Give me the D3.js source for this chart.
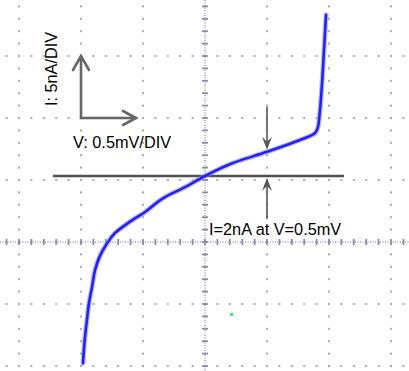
<!DOCTYPE html>
<html>
<head>
<meta charset="utf-8">
<script src="https://cdn.jsdelivr.net/npm/d3@7"></script>
<style>
  body { margin: 0; background: #fff; }
  text { font-family: "Liberation Sans", Arial, sans-serif; }
</style>
</head>
<body>
<div id="scope"></div>
<script>
// trace values, V in mV and I in nA
let voltage = [-0.984, -0.968, -0.952, -0.935, -0.911, -0.887, -0.850, -0.797, -0.726, -0.621, -0.484, -0.323, -0.161, 0, 0.226, 0.5, 0.766, 0.887, 0.911, 0.927, 0.944, 0.960, 0.976];
let current = [-15.1, -13.0, -11.6, -10.2, -8.95, -7.6, -6.5, -5.55, -4.6, -3.8, -2.9, -1.7, -0.9, 0, 1.05, 1.95, 2.9, 3.45, 3.95, 5.3, 7.5, 10.2, 13.0];

// graticule divisions
let xDivs = [-3, -2, -1, 0, 1, 2, 3];
let yDivs = [-2, -1, 0, 1, 2, 3];

// labels
let yLabel = "I: 5nA/DIV";
let xLabel = "V: 0.5mV/DIV";
let note = "I=2nA at V=0.5mV";
let markV = 0.5;

function init() {
    let width = 409;
    let height = 371;
    let svg = d3.select("#scope")
        .append("svg")
        .attr("width", width)
        .attr("height", height);

    // graticule in divisions
    let gx = d3.scaleLinear().domain([-3, 3]).range([19, 391]);
    let gy = d3.scaleLinear().domain([-3, 3]).range([428, 56]);
    // trace scales: 0.5 mV/div, 5 nA/div
    let xScale = d3.scaleLinear().domain([0, 0.5]).range([205, 267]);
    let yScale = d3.scaleLinear().domain([0, 5]).range([176, 114]);

    let minor = d3.range(-20, 21).map(d => d / 5);
    let grid = svg.append("g");

    // dots along each division line
    xDivs.filter(d => d != 0).forEach(function (k) {
        grid.selectAll(null)
            .data(minor.filter(m => gy(m) > -2 && gy(m) < height + 2))
            .enter().append("rect")
            .attr("x", gx(k) - 1).attr("y", d => gy(d) - 1)
            .attr("width", 2).attr("height", 2)
            .attr("fill", "#a8a8c0");
    });
    yDivs.filter(d => d != 0).forEach(function (k) {
        grid.selectAll(null)
            .data(minor.filter(m => gx(m) > -2 && gx(m) < width + 2))
            .enter().append("rect")
            .attr("x", d => gx(d) - 1).attr("y", gy(k) - 1)
            .attr("width", 2).attr("height", 2)
            .attr("fill", "#a8a8c0");
    });

    // centre axes, fine dotted with ticks
    grid.append("line")
        .attr("x1", gx(0)).attr("x2", gx(0))
        .attr("y1", 0).attr("y2", height)
        .attr("stroke", "#9c9cbc").attr("stroke-width", 1.5)
        .attr("stroke-dasharray", "1,1.5");
    grid.append("line")
        .attr("x1", 0).attr("x2", width)
        .attr("y1", gy(0)).attr("y2", gy(0))
        .attr("stroke", "#9c9cbc").attr("stroke-width", 1.5)
        .attr("stroke-dasharray", "1,1.5");
    grid.selectAll(null)
        .data(minor.filter(m => gy(m) > -2 && gy(m) < height + 2))
        .enter().append("line")
        .attr("x1", gx(0) - 3).attr("x2", gx(0) + 3)
        .attr("y1", d => gy(d)).attr("y2", d => gy(d))
        .attr("stroke", "#8a8aa8").attr("stroke-width", 1.8);
    grid.selectAll(null)
        .data(minor.filter(m => gx(m) > -2 && gx(m) < width + 2))
        .enter().append("line")
        .attr("x1", d => gx(d)).attr("x2", d => gx(d))
        .attr("y1", gy(0) - 3).attr("y2", gy(0) + 3)
        .attr("stroke", "#8a8aa8").attr("stroke-width", 1.8);

    // stray green spot
    svg.append("rect")
        .attr("x", 230).attr("y", 313).attr("width", 3).attr("height", 3)
        .attr("fill", "#44ee44");

    // zero current line
    svg.append("line")
        .attr("x1", 53).attr("x2", 344)
        .attr("y1", yScale(0)).attr("y2", yScale(0))
        .attr("stroke", "#505050").attr("stroke-width", 2.5);

    // trace
    let pts = voltage.map((v, i) => ({ x: v, y: current[i] }));
    let line = d3.line().curve(d3.curveMonotoneY)
        .x(d => xScale(d.x))
        .y(d => yScale(d.y));
    svg.append("path").datum(pts)
        .attr("fill", "none").attr("stroke", "#8c8cff")
        .attr("stroke-opacity", 0.6).attr("stroke-width", 5)
        .attr("stroke-linecap", "round")
        .attr("d", line);
    svg.append("path").datum(pts)
        .attr("fill", "none").attr("stroke", "#2323f0")
        .attr("stroke-width", 2.6)
        .attr("stroke-linecap", "round")
        .attr("d", line);

    // axis arrows
    let ax = gx(-2), ay = gy(2);
    let big = svg.append("g")
        .attr("stroke", "#666").attr("stroke-width", 2.6)
        .attr("fill", "none").attr("stroke-linecap", "round");
    big.append("path").attr("d", d3.line()([[ax, ay], [ax, gy(3)]]));
    big.append("path").attr("d", d3.line()([[ax - 8, gy(3) + 14], [ax, gy(3)], [ax + 8, gy(3) + 14]]));
    big.append("path").attr("d", d3.line()([[ax, ay], [ax + 55, ay]]));
    big.append("path").attr("d", d3.line()([[ax + 42, ay - 7], [ax + 55, ay], [ax + 42, ay + 7]]));

    // small arrows marking the reading
    let mx = xScale(markV);
    let tipDown = yScale(current[15]) - 2;
    let tipUp = yScale(0) + 2;
    let small = svg.append("g").attr("stroke", "#555").attr("stroke-width", 1.6);
    small.append("line").attr("x1", mx).attr("x2", mx).attr("y1", 107).attr("y2", tipDown - 4);
    small.append("line").attr("x1", mx).attr("x2", mx).attr("y1", 219).attr("y2", tipUp + 4);
    let head = d3.line();
    svg.append("path")
        .attr("d", head([[mx, tipDown], [mx - 5, tipDown - 13], [mx, tipDown - 8], [mx + 5, tipDown - 13]]) + "Z")
        .attr("fill", "#555");
    svg.append("path")
        .attr("d", head([[mx, tipUp], [mx - 5, tipUp + 13], [mx, tipUp + 8], [mx + 5, tipUp + 13]]) + "Z")
        .attr("fill", "#555");

    // labels
    svg.append("text")
        .attr("transform", "translate(57,69) rotate(-90)")
        .attr("text-anchor", "middle")
        .attr("font-size", 16.3)
        .text(yLabel);
    svg.append("text")
        .attr("x", 73).attr("y", 148)
        .attr("font-size", 16.3)
        .text(xLabel);
    svg.append("text")
        .attr("x", 209).attr("y", 235)
        .attr("font-size", 16.3)
        .text(note);
}

window.addEventListener('load', init);
</script>
</body>
</html>
